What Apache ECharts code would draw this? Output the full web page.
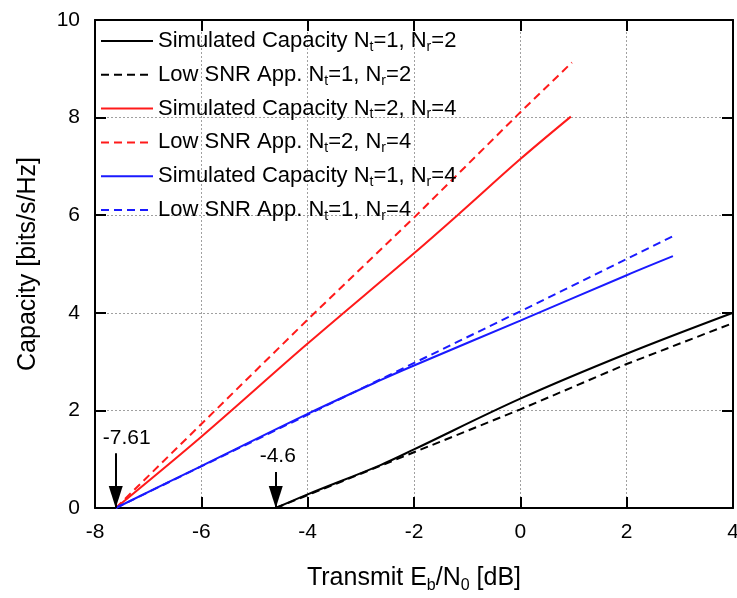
<!DOCTYPE html>
<html>
<head>
<meta charset="utf-8">
<script src="https://cdn.jsdelivr.net/npm/echarts@6/dist/echarts.min.js"></script>
<style>html,body{margin:0;padding:0;background:#fff}#c{width:737px;height:598px}</style>
</head>
<body>
<div id="c"></div>
<script>
// ---- data ----
const xTicks = [-8, -6, -4, -2, 0, 2, 4];
const yTicks = [0, 2, 4, 6, 8, 10];

const simNt1Nr2_x = [-4.6, -4, -2.63, -2, 0, 2, 4];
const simNt1Nr2_y = [0, 0.28, 0.88, 1.2, 2.24, 3.16, 4.0];
const lowNt1Nr2_x = [-4.6, 0, 2, 4];
const lowNt1Nr2_y = [0, 2.02, 2.95, 3.79];

const simNt2Nr4_x = [-7.61, -6, -4, -2, -1.13, 0, 0.95];
const simNt2Nr4_y = [0, 1.46, 3.37, 5.22, 6.05, 7.15, 8.02];
const lowNt2Nr4_x = [-7.61, -6, -4, -2, 0, 0.97];
const lowNt2Nr4_y = [0, 1.72, 3.86, 5.95, 8.11, 9.13];

const simNt1Nr4_x = [-7.61, -6, -4, -2.63, -2, 0, 2, 2.87];
const simNt1Nr4_y = [0, 0.86, 1.93, 2.62, 2.92, 3.84, 4.77, 5.16];
const lowNt1Nr4_x = [-7.61, 0, 2.87];
const lowNt1Nr4_y = [0, 4.03, 5.57];

const seriesNames = [
  'Simulated Capacity Nt=1, Nr=2',
  'Low SNR App. Nt=1, Nr=2',
  'Simulated Capacity Nt=2, Nr=4',
  'Low SNR App. Nt=2, Nr=4',
  'Simulated Capacity Nt=1, Nr=4',
  'Low SNR App. Nt=1, Nr=4'
];
const legendText = [
  '{m|Simulated Capacity N}{s|t}{m|=1, N}{s|r}{m|=2}',
  '{m|Low SNR App. N}{s|t}{m|=1, N}{s|r}{m|=2}',
  '{m|Simulated Capacity N}{s|t}{m|=2, N}{s|r}{m|=4}',
  '{m|Low SNR App. N}{s|t}{m|=2, N}{s|r}{m|=4}',
  '{m|Simulated Capacity N}{s|t}{m|=1, N}{s|r}{m|=4}',
  '{m|Low SNR App. N}{s|t}{m|=1, N}{s|r}{m|=4}'
];

// threshold annotations
const arrowX = [-7.61, -4.6];
const arrowTopY = [1.12, 0.74];
const arrowLabels = ['-7.61', '-4.6'];

const zip = (xs, ys) => xs.map((x, i) => [x, ys[i]]);
const FONT = '"Liberation Sans", Arial, sans-serif';

const colors = ['#000000', '#000000', '#ff1a1a', '#ff1a1a', '#1a1aff', '#1a1aff'];
const dashed = [false, true, false, true, false, true];
const datasets = [
  zip(simNt1Nr2_x, simNt1Nr2_y), zip(lowNt1Nr2_x, lowNt1Nr2_y),
  zip(simNt2Nr4_x, simNt2Nr4_y), zip(lowNt2Nr4_x, lowNt2Nr4_y),
  zip(simNt1Nr4_x, simNt1Nr4_y), zip(lowNt1Nr4_x, lowNt1Nr4_y)
];

const series = seriesNames.map((name, i) => ({
  name: name,
  type: 'line',
  data: datasets[i],
  showSymbol: false,
  symbol: 'none',
  smooth: dashed[i] ? false : 0.35,
  color: colors[i],
  lineStyle: { color: colors[i], width: 2, type: dashed[i] ? [8, 5] : 'solid' },
  z: 3
}));

series.push({
  name: 'annotations',
  type: 'line',
  data: [],
  silent: true,
  markLine: {
    silent: true,
    animation: false,
    symbol: ['none', 'triangle'],
    symbolSize: [14, 22],
    symbolOffset: [0, [0, 11]],
    lineStyle: { color: '#000', width: 2, type: 'solid' },
    label: {
      show: true, position: 'start', distance: 5,
      color: '#000', fontSize: 21, fontFamily: FONT,
      formatter: p => p.data && p.data.name ? p.data.name : ''
    },
    data: arrowX.map((x, i) => [
      { coord: [x, arrowTopY[i]], name: arrowLabels[i], label: { offset: i === 0 ? [11, 0] : [2, 0] } },
      { coord: [x, 0] }
    ])
  }
});

const chart = echarts.init(document.getElementById('c'), null, { renderer: 'canvas' });
chart.setOption({
  animation: false,
  backgroundColor: '#fff',
  grid: { left: 95, right: 4, top: 20, bottom: 90, containLabel: false, outerBoundsMode: 'none' },
  legend: {
    orient: 'vertical',
    left: 100,
    top: 30,
    padding: 0,
    itemGap: 9.8,
    itemWidth: 52,
    itemHeight: 14,
    data: seriesNames,
    itemStyle: { color: 'transparent', borderWidth: 0, opacity: 0 },
    formatter: name => legendText[seriesNames.indexOf(name)],
    textStyle: {
      color: '#000',
      fontFamily: FONT,
      rich: {
        m: { fontSize: 22, fontFamily: FONT, color: '#000', lineHeight: 26, verticalAlign: 'middle' },
        s: { fontSize: 14, fontFamily: FONT, color: '#000', lineHeight: 14, verticalAlign: 'bottom' }
      }
    }
  },
  xAxis: [{
    type: 'value', min: -8, max: 4, interval: 2, position: 'bottom',
    name: '{m|Transmit E}{s|b}{m|/N}{s|0}{m| [dB]}',
    nameLocation: 'middle', nameGap: 54,
    nameTextStyle: {
      rich: {
        m: { fontSize: 25, fontFamily: FONT, color: '#000', lineHeight: 32, verticalAlign: 'middle' },
        s: { fontSize: 16, fontFamily: FONT, color: '#000', lineHeight: 16, verticalAlign: 'bottom' }
      }
    },
    axisLine: { show: true, onZero: false, lineStyle: { color: '#000', width: 2 } },
    axisTick: { show: true, inside: true, length: 11, lineStyle: { color: '#000', width: 2 } },
    axisLabel: { color: '#000', fontSize: 21, fontFamily: FONT, margin: 14,
      customValues: xTicks, formatter: v => String(v) },
    splitLine: { show: true, lineStyle: { color: '#a0a0a0', width: 1, type: [2, 2] } }
  }, {
    type: 'value', min: -8, max: 4, interval: 2, position: 'top',
    axisLine: { show: true, onZero: false, lineStyle: { color: '#000', width: 2 } },
    axisTick: { show: true, inside: true, length: 11, lineStyle: { color: '#000', width: 2 } },
    axisLabel: { show: false },
    splitLine: { show: false }
  }],
  yAxis: [{
    type: 'value', min: 0, max: 10, interval: 2, position: 'left',
    name: 'Capacity [bits/s/Hz]',
    nameLocation: 'middle', nameGap: 54,
    nameTextStyle: { fontSize: 25, fontFamily: FONT, color: '#000' },
    axisLine: { show: true, onZero: false, lineStyle: { color: '#000', width: 2 } },
    axisTick: { show: true, inside: true, length: 11, lineStyle: { color: '#000', width: 2 } },
    axisLabel: { color: '#000', fontSize: 21, fontFamily: FONT, margin: 15,
      customValues: yTicks, formatter: v => String(v) },
    splitLine: { show: true, lineStyle: { color: '#a0a0a0', width: 1, type: [2, 2] } }
  }, {
    type: 'value', min: 0, max: 10, interval: 2, position: 'right',
    axisLine: { show: true, onZero: false, lineStyle: { color: '#000', width: 2 } },
    axisTick: { show: true, inside: true, length: 11, lineStyle: { color: '#000', width: 2 } },
    axisLabel: { show: false },
    splitLine: { show: false }
  }],
  series: series
});
</script>
</body>
</html>
